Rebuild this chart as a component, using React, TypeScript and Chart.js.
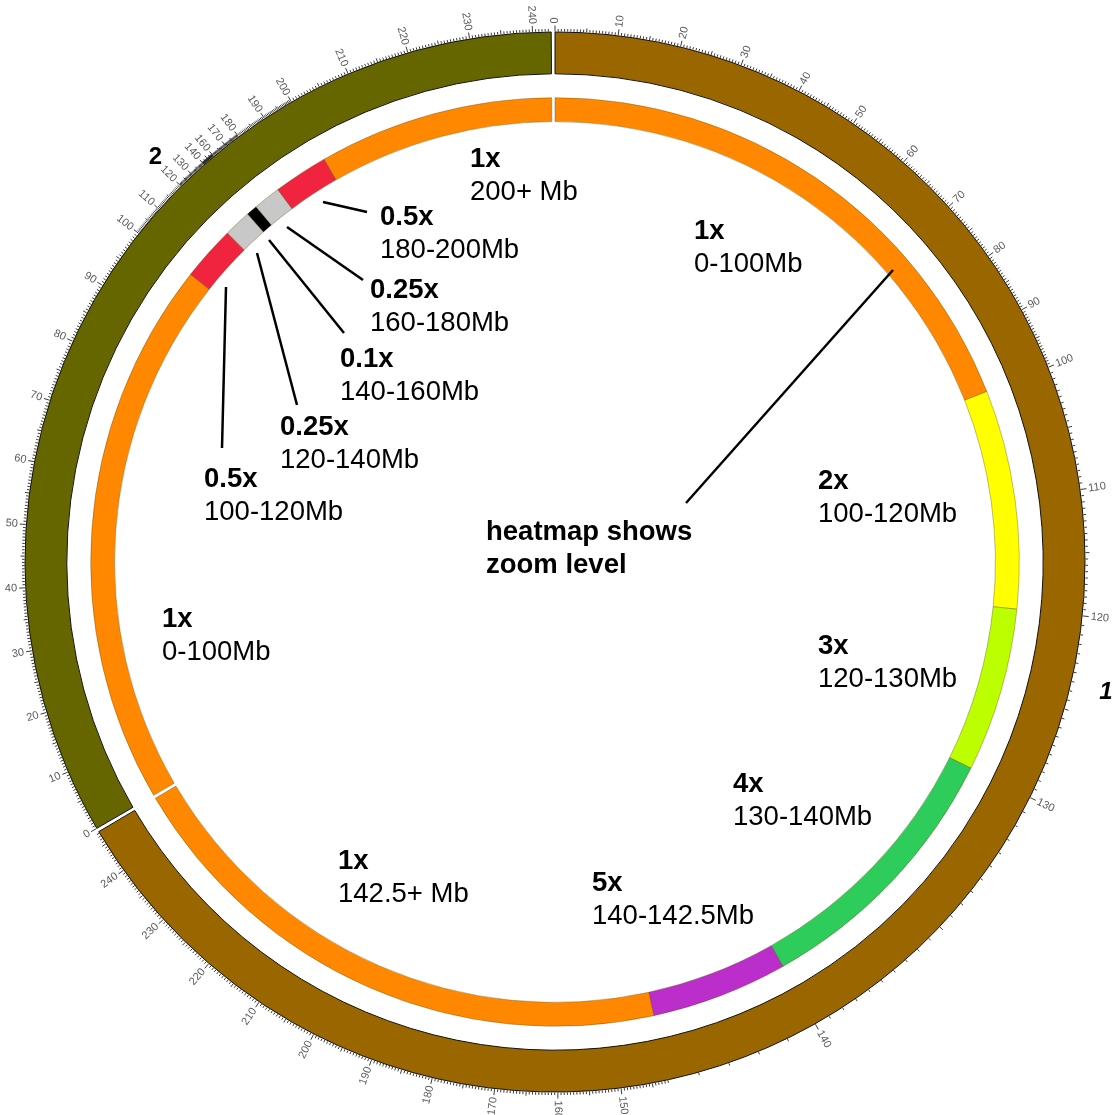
import React, { useEffect, useRef } from "react";
import { Chart, registerables } from "chart.js";

Chart.register(...registerables);

// ---------- data ----------
const chromosomeNames = ["1", "2"];
const chromosomeLengthsMb = [247.25, 242.95];
const chromosomeColors = ["#996600", "#666600"];
const chromosomeGapUnits = 0.6;

// chromosome 1 zoom regions (Mb) and drawn magnification
const chr1ZoomStart = [0, 100, 120, 130, 140, 142.5];
const chr1ZoomEnd = [100, 120, 130, 140, 142.5, 247.25];
const chr1ZoomScale = [1, 2, 3, 5, 10, 1];
const chr1ZoomColors = ["#ff8800", "#ffff00", "#bbff00", "#2ecc5a", "#bb2ecc", "#ff8800"];

// chromosome 2 zoom regions (Mb) and drawn magnification
const chr2ZoomStart = [0, 100, 120, 140, 160, 180, 200];
const chr2ZoomEnd = [100, 120, 140, 160, 180, 200, 242.95];
const chr2ZoomScale = [1, 0.5, 0.25, 0.1, 0.25, 0.5, 1];
const chr2ZoomColors = ["#ff8800", "#f0243f", "#c8c8c8", "#000000", "#c8c8c8", "#f0243f", "#ff8800"];

// ticks
const majorTickMb = 10;
const mediumTickMb = 5;
const minorTickMb = 0.5;
const chr1HiddenTickLabels: number[] = [];
const chr2HiddenTickLabels = [150];

// annotations
const noteLevels = ["1x", "1x", "0.5x", "0.25x", "0.1x", "0.25x", "0.5x", "1x", "2x", "3x", "4x", "5x", "1x"];
const noteRanges = [
  "200+ Mb", "0-100Mb", "180-200Mb", "160-180Mb", "140-160Mb", "120-140Mb",
  "100-120Mb", "0-100Mb", "100-120Mb", "120-130Mb", "130-140Mb", "140-142.5Mb", "142.5+ Mb",
];
const heatmapNote = ["heatmap shows", "zoom level"];

// ---------- layout (positions / styles) ----------
const W = 1114;
const H = 1115;
const NOTE_POS: [number, number][] = [
  [470, 167], [694, 239], [380, 225], [370, 298], [340, 367], [280, 435], [204, 487],
  [162, 627], [818, 489], [818, 654], [733, 792], [592, 891], [338, 869],
];
const HEAT_NOTE_POS: [number, number] = [486, 540];
const NOTE_LINE_GAP = 33;
const LEADERS: [number, number, number, number][] = [
  [323, 202, 367, 212],
  [287, 227, 363, 280],
  [269, 240, 344, 333],
  [257, 253, 297, 405],
  [226, 287, 222, 448],
  [893, 270, 686, 503],
];
const FONT = '"Liberation Sans", Arial, Helvetica, sans-serif';

const zoomStarts = [chr1ZoomStart, chr2ZoomStart];
const zoomEnds = [chr1ZoomEnd, chr2ZoomEnd];
const zoomScales = [chr1ZoomScale, chr2ZoomScale];
const hiddenLabels = [chr1HiddenTickLabels, chr2HiddenTickLabels];

function segUnits(k: number): number[] {
  return zoomStarts[k].map((s, i) => (zoomEnds[k][i] - s) * zoomScales[k][i]);
}
const sum = (a: number[]) => a.reduce((p, c) => p + c, 0);

const chr1Units = segUnits(0);
const chr2Units = segUnits(1);
const outerData = [sum(chr1Units), chromosomeGapUnits, sum(chr2Units), chromosomeGapUnits];
const heatData = [...chr1Units, chromosomeGapUnits, ...chr2Units, chromosomeGapUnits];
const CLEAR = "rgba(0,0,0,0)";
const heatColors = [...chr1ZoomColors, CLEAR, ...chr2ZoomColors, CLEAR];
const heatBorder = heatColors.map((c) => (c === CLEAR ? CLEAR : "rgba(90,70,0,0.45)"));
const heatBorderW = heatColors.map((c) => (c === CLEAR ? 0 : 0.8));

function mbToUnits(k: number, mb: number): number {
  const units = segUnits(k);
  let acc = 0;
  for (let i = 0; i < zoomStarts[k].length; i++) {
    const s = zoomStarts[k][i];
    const e = zoomEnds[k][i];
    if (mb <= e || i === zoomStarts[k].length - 1) {
      return acc + (Math.min(mb, e) - s) * zoomScales[k][i];
    }
    acc += units[i];
  }
  return acc;
}

const circosPlugin = {
  id: "circosDecor",
  afterDatasetsDraw(chart: any) {
    const ctx: CanvasRenderingContext2D = chart.ctx;
    const meta = chart.getDatasetMeta(0);
    for (let k = 0; k < 2; k++) {
      const arc: any = meta.data[k * 2];
      const { x, y, startAngle, endAngle, outerRadius } = arc;
      const total = sum(segUnits(k));
      const toAngle = (mb: number) => startAngle + (mbToUnits(k, mb) / total) * (endAngle - startAngle);
      const len = chromosomeLengthsMb[k];
      const r0 = outerRadius + 0.5;

      // ticks
      ctx.save();
      ctx.strokeStyle = "#222";
      ctx.lineWidth = 0.9;
      ctx.beginPath();
      const n = Math.floor(len / minorTickMb + 1e-6);
      for (let i = 0; i <= n; i++) {
        const mb = i * minorTickMb;
        const a = toAngle(mb);
        const isMajor = Math.abs(mb / majorTickMb - Math.round(mb / majorTickMb)) < 1e-6;
        const isMed = Math.abs(mb / mediumTickMb - Math.round(mb / mediumTickMb)) < 1e-6;
        const l = isMajor ? 6 : isMed ? 4 : 2.6;
        ctx.moveTo(x + Math.cos(a) * r0, y + Math.sin(a) * r0);
        ctx.lineTo(x + Math.cos(a) * (r0 + l), y + Math.sin(a) * (r0 + l));
      }
      ctx.stroke();

      // tick labels
      ctx.fillStyle = "#5a5a5a";
      ctx.font = `11px ${FONT}`;
      ctx.textBaseline = "middle";
      const rl = r0 + 8;
      for (let mb = 0; mb <= len + 1e-6; mb += majorTickMb) {
        if (hiddenLabels[k].includes(mb)) continue;
        const a = toAngle(mb);
        ctx.save();
        ctx.translate(x, y);
        if (Math.cos(a) > -1e-9) {
          ctx.rotate(a);
          ctx.textAlign = "left";
          ctx.fillText(String(mb), rl, 0);
        } else {
          ctx.rotate(a + Math.PI);
          ctx.textAlign = "right";
          ctx.fillText(String(mb), -rl, 0);
        }
        ctx.restore();
      }

      // chromosome name
      const am = toAngle(len / 2);
      const rn = outerRadius + (k === 0 ? 36 : 39);
      ctx.fillStyle = "#000";
      ctx.font = k === 0 ? `italic bold 24px ${FONT}` : `bold 24px ${FONT}`;
      ctx.textAlign = "center";
      ctx.textBaseline = "middle";
      ctx.fillText(chromosomeNames[k], x + Math.cos(am) * rn, y + Math.sin(am) * rn);
      ctx.restore();
    }

    // leader lines
    ctx.save();
    ctx.strokeStyle = "#000";
    ctx.lineWidth = 2.5;
    for (const [x1, y1, x2, y2] of LEADERS) {
      ctx.beginPath();
      ctx.moveTo(x1, y1);
      ctx.lineTo(x2, y2);
      ctx.stroke();
    }

    // notes
    ctx.fillStyle = "#000";
    ctx.textAlign = "left";
    ctx.textBaseline = "alphabetic";
    noteLevels.forEach((lvl, i) => {
      const [nx, ny] = NOTE_POS[i];
      ctx.font = `bold 27.5px ${FONT}`;
      ctx.fillText(lvl, nx, ny);
      ctx.font = `27.5px ${FONT}`;
      ctx.fillText(noteRanges[i], nx, ny + NOTE_LINE_GAP);
    });
    ctx.font = `bold 27.5px ${FONT}`;
    heatmapNote.forEach((t, i) => ctx.fillText(t, HEAT_NOTE_POS[0], HEAT_NOTE_POS[1] + i * NOTE_LINE_GAP));
    ctx.restore();
  },
};

export default function App() {
  const ref = useRef<HTMLCanvasElement>(null);
  useEffect(() => {
    const chart = new Chart(ref.current as HTMLCanvasElement, {
      type: "doughnut",
      data: {
        labels: heatData.map((_, i) => String(i)),
        datasets: [
          {
            data: outerData,
            backgroundColor: [chromosomeColors[0], CLEAR, chromosomeColors[1], CLEAR],
            borderColor: ["#111", CLEAR, "#111", CLEAR],
            borderWidth: [1, 0, 1, 0],
            weight: 42,
          } as any,
          { data: [1], backgroundColor: CLEAR, borderWidth: 0, weight: 24 } as any,
          {
            data: heatData,
            backgroundColor: heatColors,
            borderColor: heatBorder,
            borderWidth: heatBorderW,
            weight: 24,
          } as any,
        ],
      },
      options: {
        responsive: false,
        animation: false,
        events: [],
        radius: 530,
        cutout: 440,
        rotation: 0,
        circumference: 360,
        layout: { padding: { left: 25, right: 29, top: 32, bottom: 23 } },
        plugins: { legend: { display: false }, tooltip: { enabled: false } },
      } as any,
      plugins: [circosPlugin],
    });
    return () => chart.destroy();
  }, []);
  return (
    <div style={{ position: "absolute", left: 0, top: 0, width: W, height: H, background: "#fff" }}>
      <canvas ref={ref} width={W} height={H} style={{ display: "block" }} />
    </div>
  );
}
